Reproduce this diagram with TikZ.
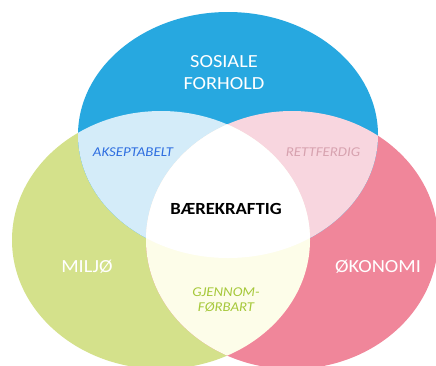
\documentclass[tikz,border=0pt]{standalone}
\usepackage{fontspec}
\setmainfont{Carlito}[FakeStretch=1.1]
\definecolor{cblue}{HTML}{27A8E0}
\definecolor{cgreen}{HTML}{D4E18B}
\definecolor{cpink}{HTML}{F0869A}
\definecolor{lblue}{HTML}{D4ECF9}
\definecolor{lpink}{HTML}{F8D6DF}
\definecolor{lyellow}{HTML}{FDFDE9}
\definecolor{tblue}{HTML}{2E6EE0}
\definecolor{tpink}{HTML}{D7A2AF}
\definecolor{tgreen}{HTML}{A6C83A}
\tikzset{
  biglabel/.style={text=white, font=\fontsize{18.5}{22}\selectfont, align=center, inner sep=0pt},
  smalllabel/.style={font=\fontsize{13.5}{15}\selectfont\itshape, align=center, inner sep=0pt},
  centrelabel/.style={text=black, font=\fontsize{17}{20}\selectfont\bfseries, inner sep=0pt}
}
\begin{document}
\begin{tikzpicture}[x=1pt,y=-1pt]
\useasboundingbox (0,0) rectangle (436,365);
\clip (0,0) rectangle (436,365);
\fill[white] (0,0) rectangle (436,365);
\def\BlueE{(228,135) ellipse [x radius=150pt, y radius=123pt]}
\def\GreenE{(161,240) ellipse [x radius=149pt, y radius=129pt]}
\def\PinkE{(292,240) ellipse [x radius=146pt, y radius=129pt]}
\fill[cgreen] \GreenE;
\fill[cpink] \PinkE;
\fill[cblue] \BlueE;
\begin{scope}
  \clip \BlueE;
  \fill[lblue] \GreenE;
  \fill[lpink] \PinkE;
\end{scope}
\begin{scope}
  \clip \GreenE;
  \fill[lyellow] \PinkE;
  \clip \PinkE;
  \fill[white] \BlueE;
\end{scope}
\node[biglabel] (sos) at (224,72.5) {SOSIALE\\FORHOLD};
\node[smalllabel, text=tblue] (aks) at (133,152) {AKSEPTABELT};
\node[smalllabel, text=tpink] (ret) at (323,152) {RETTFERDIG};
\node[centrelabel] (bae) at (226,209) {BÆREKRAFTIG};
\node[biglabel] (mil) at (87,267) {MILJØ};
\node[biglabel] (oko) at (378,267) {ØKONOMI};
\node[smalllabel, text=tgreen] (gje) at (226,300) {GJENNOM-\\FØRBART};
\end{tikzpicture}
\end{document}
